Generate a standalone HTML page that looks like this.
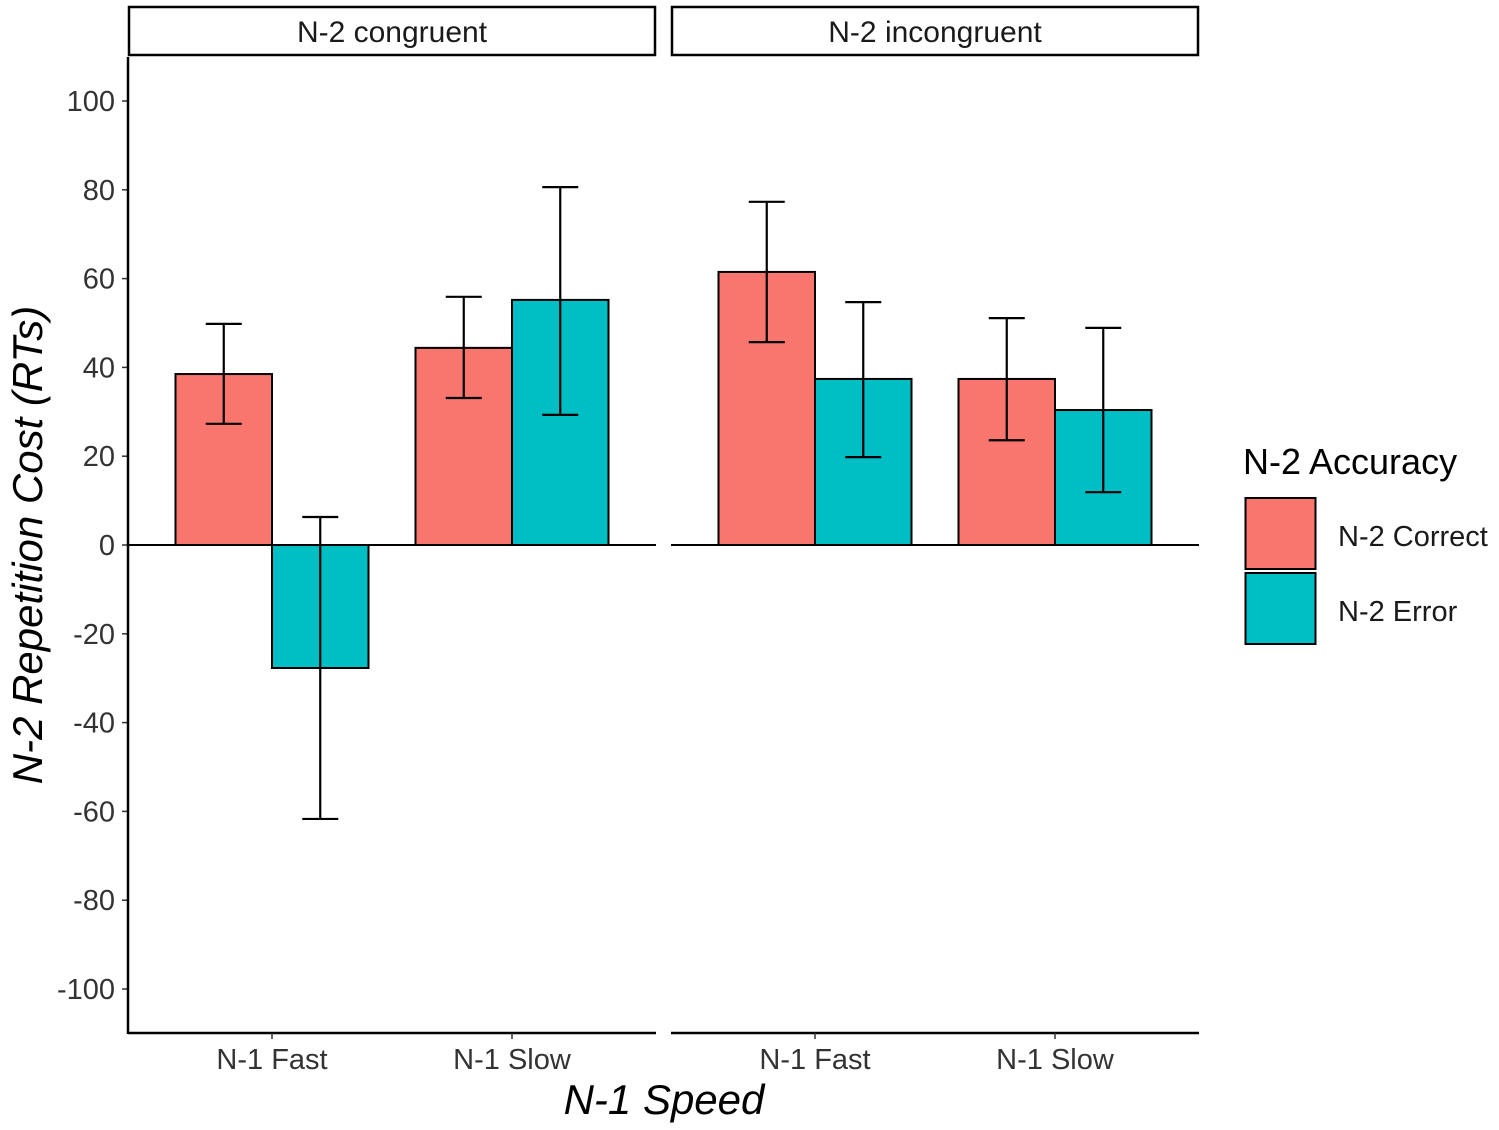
<!DOCTYPE html>
<html><head><meta charset="utf-8"><style>
html,body{margin:0;padding:0;background:#fff;}
svg{display:block;font-family:"Liberation Sans",Arial,sans-serif;}
</style></head><body>
<svg id="chart" width="1499" height="1130" viewBox="0 0 1499 1130" xmlns="http://www.w3.org/2000/svg"></svg>
<script>
const panels = ["N-2 congruent", "N-2 incongruent"];
const categories = ["N-1 Fast", "N-1 Slow"];
const seriesNames = ["N-2 Correct", "N-2 Error"];
const seriesColors = ["#F8766D", "#00BFC4"];
// values[panel][category]
const correctValues = [[38.5, 44.4], [61.5, 37.4]];
const errorValues = [[-27.7, 55.2], [37.4, 30.4]];
const correctLow = [[27.3, 33.1], [45.7, 23.6]];
const correctHigh = [[49.8, 55.9], [77.3, 51.1]];
const errorLow = [[-61.7, 29.3], [19.8, 11.9]];
const errorHigh = [[6.3, 80.6], [54.7, 48.9]];
const yTicks = [100, 80, 60, 40, 20, 0, -20, -40, -60, -80, -100];

const svg = document.getElementById('chart');
const NS = "http://www.w3.org/2000/svg";
function mk(tag, attrs, parent, text) {
  const e = document.createElementNS(NS, tag);
  for (const k in attrs) e.setAttribute(k, attrs[k]);
  if (text !== undefined) e.textContent = text;
  (parent || svg).appendChild(e);
  return e;
}
const y = v => 545 - v * 4.44;
const panelX = [128, 671], panelW = 528;
const xCenter = (p, c) => panelX[p] + 144 + c * 240;
const barW = 96.5;

yTicks.forEach(t => {
  const tl = mk('text', {x: 115, y: y(t) + 10, 'text-anchor': 'end', 'font-size': 29, fill: '#333'}, svg, String(t));
  
  
  mk('line', {x1: 122, x2: 128, y1: y(t), y2: y(t), stroke: '#333', 'stroke-width': 1.5});
});

panels.forEach((pn, p) => {
  const x0 = panelX[p];
  const strip = mk('rect', {x: x0 + 1, y: 7, width: panelW - 2, height: 48, fill: '#fff', stroke: '#000', 'stroke-width': 2.5});
  
  
  const st = mk('text', {x: x0 + panelW / 2, y: 42, 'text-anchor': 'middle', 'font-size': 30, fill: '#1a1a1a'}, svg, pn);
  
  
  mk('line', {x1: x0, x2: x0 + panelW, y1: 1033, y2: 1033, stroke: '#000', 'stroke-width': 2.5});
  if (p === 0) mk('line', {x1: 128, x2: 128, y1: 57, y2: 1034, stroke: '#000', 'stroke-width': 2.5});
  categories.forEach((c, ci) => {
    const xc = xCenter(p, ci);
    const vals = [correctValues[p][ci], errorValues[p][ci]];
    const lows = [correctLow[p][ci], errorLow[p][ci]];
    const highs = [correctHigh[p][ci], errorHigh[p][ci]];
    vals.forEach((v, s) => {
      const bx = xc - barW + s * barW;
      const r = mk('rect', {x: bx, y: Math.min(y(v), y(0)), width: barW, height: Math.abs(y(v) - y(0)), fill: seriesColors[s], stroke: '#000', 'stroke-width': 2});
      
      
    });
    mk('line', {x1: x0, x2: x0 + panelW, y1: y(0), y2: y(0), stroke: '#000', 'stroke-width': 2});
    vals.forEach((v, s) => {
      const ex = xc - barW / 2 + s * barW;
      const g = mk('g', {stroke: '#000', 'stroke-width': 2.2});
      
      
      mk('line', {x1: ex, x2: ex, y1: y(highs[s]), y2: y(lows[s])}, g);
      mk('line', {x1: ex - 18, x2: ex + 18, y1: y(highs[s]), y2: y(highs[s])}, g);
      mk('line', {x1: ex - 18, x2: ex + 18, y1: y(lows[s]), y2: y(lows[s])}, g);
    });
    mk('line', {x1: xc, x2: xc, y1: 1033, y2: 1039, stroke: '#333', 'stroke-width': 1.5});
    const xl = mk('text', {x: xc, y: 1069, 'text-anchor': 'middle', 'font-size': 29, fill: '#333'}, svg, c);
    
    
  });
});

const yt = mk('text', {x: 0, y: 0, transform: 'translate(42,545) rotate(-90)', 'text-anchor': 'middle', 'font-size': 42, 'font-style': 'italic', fill: '#000'}, svg, 'N-2 Repetition Cost (RTs)');


const xt = mk('text', {x: 664, y: 1114, 'text-anchor': 'middle', 'font-size': 42, 'font-style': 'italic', fill: '#000'}, svg, 'N-1 Speed');



const lg = mk('g', {});


mk('text', {x: 1243, y: 474, 'font-size': 36, fill: '#000'}, lg, 'N-2 Accuracy');
seriesNames.forEach((n, s) => {
  const e = mk('g', {}, lg);
  
  
  mk('rect', {x: 1245.5, y: 498 + s * 75, width: 70, height: 71, fill: seriesColors[s], stroke: '#000', 'stroke-width': 2}, e);
  mk('text', {x: 1338, y: 546 + s * 75, 'font-size': 29, fill: '#1a1a1a'}, e, n);
});
</script>
</body></html>
